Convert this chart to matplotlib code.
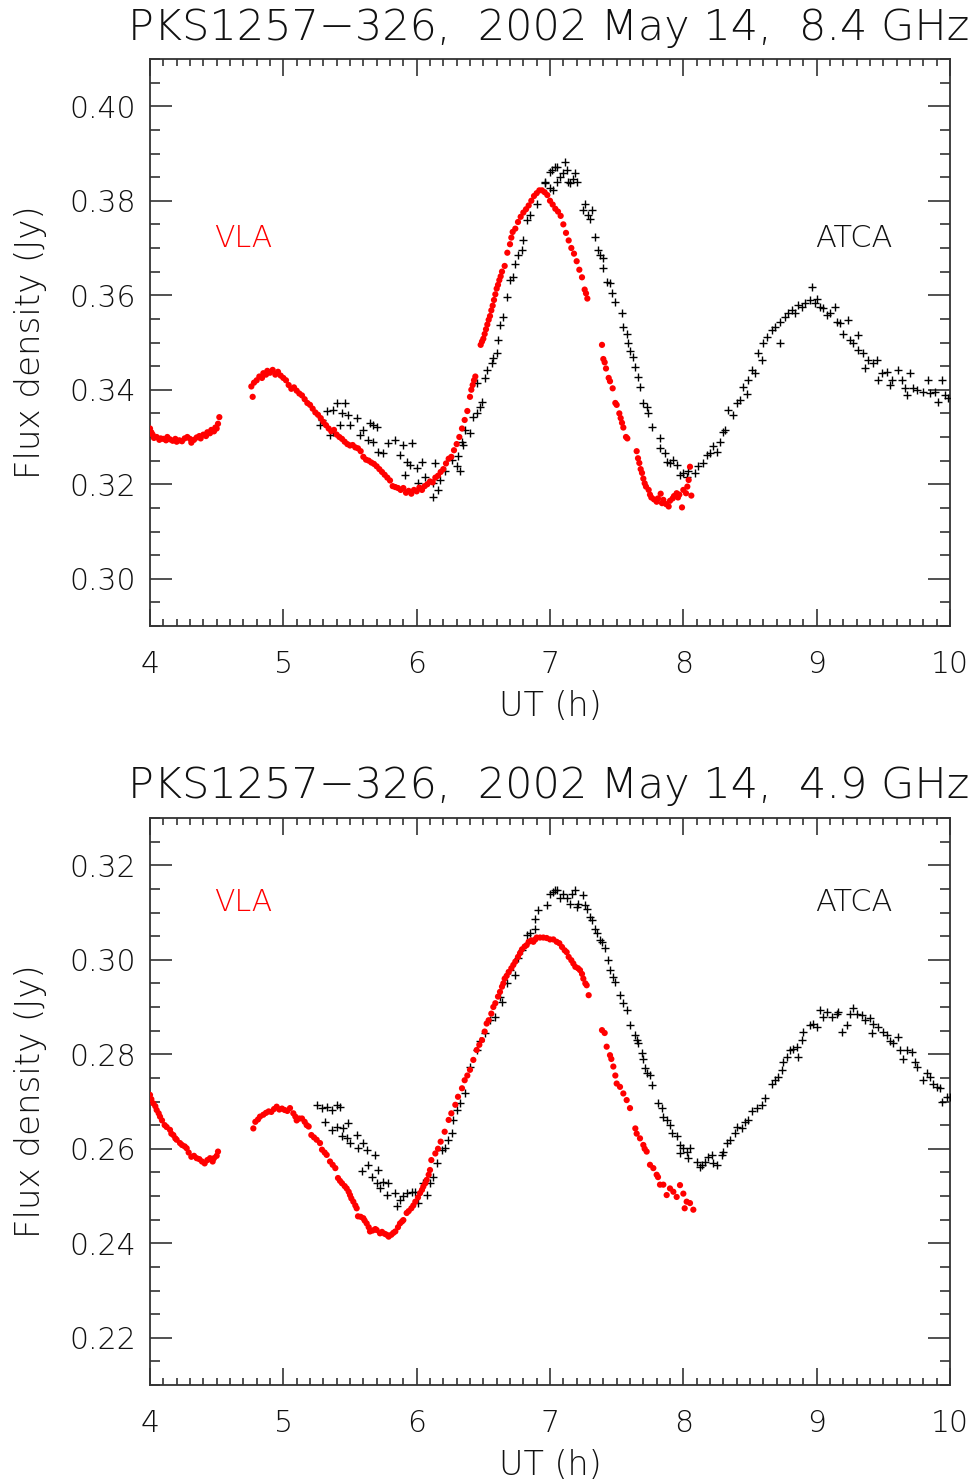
import matplotlib
matplotlib.use("Agg")
import matplotlib.pyplot as plt
from matplotlib.ticker import MultipleLocator, FormatStrFormatter

# ---------------- data ----------------
# 8.4 GHz, VLA
vla84_t = [4.00, 4.01, 4.02, 4.03, 4.05, 4.07, 4.08, 4.10, 4.12, 4.13, 4.15, 4.17, 4.19, 4.20, 4.22,
           4.24, 4.26, 4.28, 4.30, 4.31, 4.33, 4.35, 4.37, 4.38, 4.40, 4.42, 4.43, 4.45, 4.46, 4.48,
           4.49, 4.50, 4.51, 4.52,
           4.76, 4.77, 4.78, 4.80, 4.82, 4.84, 4.85, 4.87, 4.88, 4.90, 4.92, 4.94, 4.96, 4.98, 5.00,
           5.02, 5.04, 5.06, 5.08, 5.10, 5.12, 5.14, 5.16, 5.18, 5.20, 5.22, 5.24, 5.26, 5.28, 5.30,
           5.32, 5.34, 5.36, 5.38, 5.40, 5.42, 5.44, 5.46, 5.48, 5.50, 5.52, 5.54, 5.56, 5.58, 5.60,
           5.62, 5.64, 5.66, 5.68, 5.70, 5.72, 5.74, 5.76, 5.78, 5.80, 5.82, 5.84, 5.86, 5.88, 5.90,
           5.92, 5.94, 5.96, 5.98, 6.00, 6.02, 6.04, 6.06, 6.08, 6.10, 6.12, 6.14, 6.16, 6.18, 6.20,
           6.22, 6.24, 6.26, 6.28, 6.30, 6.32, 6.34, 6.36, 6.38, 6.40, 6.41, 6.42, 6.43, 6.44,
           6.48, 6.49, 6.50, 6.51, 6.52, 6.53, 6.54, 6.55, 6.56, 6.57, 6.58, 6.59, 6.60, 6.61, 6.62,
           6.63, 6.64, 6.66, 6.68, 6.70, 6.71, 6.72, 6.74, 6.76, 6.78, 6.80, 6.82, 6.84, 6.86, 6.88,
           6.90, 6.92, 6.94, 6.96, 6.98, 7.00, 7.02, 7.04, 7.06, 7.08, 7.10, 7.12, 7.14, 7.16, 7.18,
           7.20, 7.22, 7.24, 7.26, 7.27, 7.28,
           7.39, 7.40, 7.41, 7.42, 7.44, 7.45, 7.47, 7.49, 7.50, 7.52, 7.53, 7.54, 7.55, 7.57, 7.58,
           7.65, 7.66, 7.67, 7.68, 7.69, 7.70, 7.71, 7.72, 7.74, 7.75, 7.76, 7.78, 7.80, 7.81, 7.83,
           7.84, 7.85, 7.87, 7.89, 7.90, 7.92, 7.93, 7.95, 7.96, 7.97, 7.99, 8.00, 8.02, 8.03, 8.04,
           8.05, 8.06]
vla84_s = [0.3318, 0.3310, 0.3305, 0.3298, 0.3300, 0.3294, 0.3297, 0.3296, 0.3293, 0.3300, 0.3295,
           0.3292, 0.3296, 0.3290, 0.3293, 0.3291, 0.3297, 0.3300, 0.3296, 0.3288, 0.3294, 0.3299,
           0.3302, 0.3297, 0.3305, 0.3302, 0.3310, 0.3308, 0.3315, 0.3312, 0.3320, 0.3318, 0.3328,
           0.3342,
           0.3407, 0.3385, 0.3415, 0.3420, 0.3428, 0.3425, 0.3435, 0.3432, 0.3440, 0.3436, 0.3442,
           0.3432, 0.3438, 0.3430, 0.3425, 0.3420, 0.3410, 0.3402, 0.3405, 0.3398, 0.3392, 0.3388,
           0.3380, 0.3372, 0.3368, 0.3360, 0.3352, 0.3347, 0.3340, 0.3332, 0.3325, 0.3318, 0.3312,
           0.3315, 0.3305, 0.3300, 0.3296, 0.3290, 0.3285, 0.3282, 0.3283, 0.3278, 0.3276, 0.3270,
           0.3258, 0.3252, 0.3250, 0.3246, 0.3243, 0.3238, 0.3232, 0.3226, 0.3220, 0.3214, 0.3208,
           0.3196, 0.3194, 0.3192, 0.3188, 0.3192, 0.3182, 0.3186, 0.3180, 0.3188, 0.3185, 0.3193,
           0.3188, 0.3196, 0.3200, 0.3206, 0.3204, 0.3214, 0.3218, 0.3226, 0.3232, 0.3244, 0.3254,
           0.3258, 0.3272, 0.3285, 0.3300, 0.3318, 0.3336, 0.3355, 0.3385, 0.3400, 0.3410, 0.3420,
           0.3428,
           0.3495, 0.3502, 0.3508, 0.3518, 0.3528, 0.3538, 0.3548, 0.3556, 0.3568, 0.3578, 0.3590,
           0.3602, 0.3614, 0.3622, 0.3632, 0.3640, 0.3650, 0.3662, 0.3690, 0.3708, 0.3722, 0.3734,
           0.3741, 0.3755, 0.3766, 0.3775, 0.3782, 0.3790, 0.3800, 0.3810, 0.3816, 0.3822, 0.3822,
           0.3818, 0.3812, 0.3800, 0.3792, 0.3783, 0.3777, 0.3768, 0.3750, 0.3732, 0.3716, 0.3700,
           0.3688, 0.3672, 0.3654, 0.3638, 0.3612, 0.3604, 0.3593,
           0.3495, 0.3465, 0.3458, 0.3445, 0.3425, 0.3418, 0.3403, 0.3372, 0.3368, 0.3350, 0.3340,
           0.3330, 0.3320, 0.3300, 0.3297,
           0.3270, 0.3255, 0.3245, 0.3232, 0.3224, 0.3212, 0.3202, 0.3195, 0.3188, 0.3178, 0.3172,
           0.3168, 0.3163, 0.3170, 0.3180, 0.3160, 0.3167, 0.3158, 0.3153, 0.3165, 0.3170, 0.3175,
           0.3181, 0.3172, 0.3178, 0.3151, 0.3188, 0.3181, 0.3195, 0.3209, 0.3237, 0.3176]

# 8.4 GHz, ATCA
atca84_t = [5.275, 5.288, 5.325, 5.375, 5.400, 5.463, 5.488, 5.438, 5.425, 5.350, 5.375, 5.500,
            5.550, 5.575, 5.600, 5.650, 5.675, 5.700, 5.638, 5.675, 5.713, 5.750, 5.788, 5.838,
            5.875, 5.900, 5.925, 5.963, 5.950, 6.000, 6.038, 5.913, 6.013, 6.063, 6.125, 6.138,
            6.163, 6.125, 6.175, 6.213, 6.263, 6.300, 6.325, 6.313, 6.350, 6.338, 6.363, 6.400,
            6.425, 6.450, 6.475, 6.488, 6.450, 6.513, 6.525, 6.563, 6.575, 6.600, 6.613, 6.625,
            6.650, 6.675, 6.700, 6.725, 6.738, 6.763, 6.788, 6.800, 6.825, 6.850, 6.900, 6.963,
            7.000, 7.050, 7.025,
            7.013, 7.038, 7.075, 7.113, 7.125, 7.138, 7.150, 7.175, 7.200, 7.188, 7.100, 7.050,
            7.000, 6.963, 7.263, 7.250, 7.288, 7.300, 7.313, 7.338, 7.363, 7.375, 7.400, 7.400,
            7.425, 7.450, 7.463, 7.488, 7.538, 7.550, 7.575, 7.588, 7.600, 7.625, 7.638, 7.663,
            7.675, 7.700, 7.725, 7.738, 7.763, 7.825, 7.825, 7.863, 7.875, 7.900, 7.925, 7.950,
            7.975, 8.000, 8.025, 8.038, 8.088, 8.113, 8.150, 8.175, 8.200, 8.225, 8.250, 8.275,
            8.300, 8.313, 8.338, 8.375, 8.400, 8.425, 8.450, 8.475, 8.488, 8.513, 8.538, 8.563,
            8.588, 8.600, 8.625, 8.663, 8.688, 8.725, 8.725, 8.763, 8.788, 8.813, 8.838, 8.863,
            8.888, 8.913, 8.950, 8.963, 8.988, 9.000, 9.025, 9.050, 9.075, 9.100, 9.138, 9.150,
            9.175, 9.200, 9.238, 9.250, 9.275, 9.313, 9.313, 9.350, 9.363, 9.388, 9.425, 9.450,
            9.463, 9.488, 9.525, 9.550, 9.563, 9.613, 9.638, 9.663, 9.675, 9.700, 9.725, 9.750,
            9.800, 9.838, 9.850, 9.888, 9.913, 9.938, 9.963, 9.988]
atca84_s = [0.3326, 0.3336, 0.3354, 0.3357, 0.3371, 0.3371, 0.3347, 0.3350, 0.3326, 0.3304, 0.3311,
            0.3326, 0.3340, 0.3304, 0.3315, 0.3329, 0.3326, 0.3322, 0.3294, 0.3290, 0.3269, 0.3266,
            0.3287, 0.3294, 0.3262, 0.3283, 0.3248, 0.3287, 0.3241, 0.3234, 0.3248, 0.3220, 0.3202,
            0.3216, 0.3202, 0.3244, 0.3188, 0.3174, 0.3209, 0.3227, 0.3252, 0.3238, 0.3227, 0.3259,
            0.3283, 0.3290, 0.3315, 0.3308, 0.3343, 0.3350, 0.3364, 0.3375, 0.3414, 0.3424, 0.3442,
            0.3456, 0.3467, 0.3477, 0.3505, 0.3537, 0.3555, 0.3597, 0.3632, 0.3639, 0.3667, 0.3685,
            0.3696, 0.3717, 0.3759, 0.3770, 0.3794, 0.3837, 0.3861, 0.3872, 0.3822,
            0.3865, 0.3872, 0.3851, 0.3882, 0.3865, 0.3840, 0.3837, 0.3847, 0.3840, 0.3858, 0.3858,
            0.3840, 0.3826, 0.3840, 0.3794, 0.3780, 0.3770, 0.3762, 0.3780, 0.3724, 0.3695, 0.3685,
            0.3678, 0.3657, 0.3628, 0.3625, 0.3604, 0.3586, 0.3562, 0.3533, 0.3519, 0.3498, 0.3481,
            0.3470, 0.3449, 0.3428, 0.3406, 0.3371, 0.3364, 0.3350, 0.3322, 0.3297, 0.3276, 0.3266,
            0.3248, 0.3244, 0.3252, 0.3241, 0.3220, 0.3223, 0.3216, 0.3227, 0.3223, 0.3238, 0.3244,
            0.3262, 0.3266, 0.3280, 0.3269, 0.3290, 0.3311, 0.3315, 0.3357, 0.3347, 0.3371, 0.3378,
            0.3406, 0.3392, 0.3421, 0.3442, 0.3435, 0.3477, 0.3463, 0.3498, 0.3512, 0.3526, 0.3533,
            0.3498, 0.3544, 0.3555, 0.3562, 0.3569, 0.3562, 0.3579, 0.3576, 0.3583, 0.3590, 0.3618,
            0.3583, 0.3593, 0.3576, 0.3572, 0.3558, 0.3562, 0.3576, 0.3544, 0.3541, 0.3519, 0.3548,
            0.3505, 0.3498, 0.3516, 0.3484, 0.3477, 0.3445, 0.3463, 0.3456, 0.3463, 0.3421, 0.3435,
            0.3438, 0.3410, 0.3421, 0.3442, 0.3421, 0.3403, 0.3389, 0.3435, 0.3403, 0.3400, 0.3396,
            0.3421, 0.3393, 0.3396, 0.3375, 0.3421, 0.3389, 0.3382]

# 4.9 GHz, VLA
vla49_t = [4.000, 4.010, 4.025, 4.040, 4.050, 4.065, 4.075, 4.090, 4.110, 4.125, 4.150, 4.160,
           4.175, 4.190, 4.200, 4.225, 4.240, 4.260, 4.275, 4.290, 4.310, 4.330, 4.350, 4.370,
           4.390, 4.410, 4.430, 4.450, 4.470, 4.480, 4.500, 4.510,
           4.775, 4.790, 4.810, 4.825, 4.850, 4.870, 4.890, 4.910, 4.930, 4.950, 4.970, 4.990,
           5.010, 5.030, 5.050, 5.075, 5.090, 5.100, 5.120, 5.140, 5.160, 5.175, 5.190, 5.210,
           5.230, 5.250, 5.275, 5.290, 5.310, 5.325, 5.350, 5.370, 5.390, 5.410, 5.425, 5.440,
           5.460, 5.475, 5.490, 5.500, 5.510, 5.525, 5.540, 5.550, 5.560, 5.580, 5.600, 5.610,
           5.625, 5.640, 5.650, 5.670, 5.690, 5.700, 5.725, 5.740, 5.760, 5.775, 5.790, 5.810,
           5.825, 5.840, 5.860, 5.875, 5.890, 5.900, 5.925, 5.940, 5.960, 5.975, 5.990, 6.010,
           6.025, 6.040, 6.050, 6.065, 6.075, 6.090, 6.100, 6.110, 6.140, 6.160, 6.180, 6.210,
           6.240, 6.260, 6.290, 6.310, 6.340, 6.360, 6.380, 6.400, 6.425, 6.450, 6.470, 6.490,
           6.510, 6.525, 6.540, 6.560, 6.575, 6.590, 6.610, 6.625, 6.640, 6.650, 6.660, 6.675,
           6.690, 6.710, 6.725, 6.740, 6.760, 6.775, 6.790, 6.810, 6.825, 6.840, 6.860, 6.875,
           6.890, 6.900, 6.925, 6.950, 6.975, 7.000, 7.025, 7.050, 7.070, 7.090, 7.110, 7.125,
           7.140, 7.160, 7.175, 7.190, 7.210, 7.225, 7.240, 7.250, 7.265, 7.275, 7.290,
           7.390, 7.410, 7.425, 7.450, 7.460, 7.475, 7.490, 7.500, 7.525, 7.550, 7.575, 7.600,
           7.640, 7.650, 7.675, 7.700, 7.710, 7.725, 7.750, 7.775, 7.800, 7.810, 7.825, 7.850,
           7.875, 7.900, 7.925, 7.950, 7.975, 8.000, 8.025, 8.010, 8.050, 8.075]
vla49_s = [0.2714, 0.2705, 0.2696, 0.2690, 0.2682, 0.2675, 0.2668, 0.2660, 0.2650, 0.2646, 0.2640,
           0.2632, 0.2629, 0.2622, 0.2619, 0.2612, 0.2608, 0.2605, 0.2601, 0.2592, 0.2583, 0.2585,
           0.2580, 0.2578, 0.2573, 0.2569, 0.2576, 0.2580, 0.2573, 0.2580, 0.2585, 0.2594,
           0.2643, 0.2657, 0.2662, 0.2668, 0.2672, 0.2676, 0.2679, 0.2678, 0.2684, 0.2689, 0.2683,
           0.2685, 0.2682, 0.2680, 0.2686, 0.2675, 0.2668, 0.2660, 0.2664, 0.2664, 0.2657, 0.2650,
           0.2647, 0.2629, 0.2624, 0.2619, 0.2612, 0.2598, 0.2592, 0.2587, 0.2573, 0.2566, 0.2559,
           0.2538, 0.2532, 0.2527, 0.2521, 0.2516, 0.2509, 0.2502, 0.2495, 0.2488, 0.2480, 0.2474,
           0.2457, 0.2456, 0.2453, 0.2448, 0.2442, 0.2434, 0.2425, 0.2427, 0.2430, 0.2428, 0.2421,
           0.2424, 0.2420, 0.2418, 0.2414, 0.2418, 0.2422, 0.2425, 0.2434, 0.2442, 0.2446, 0.2449,
           0.2464, 0.2468, 0.2474, 0.2480, 0.2488, 0.2497, 0.2506, 0.2513, 0.2520, 0.2527, 0.2534,
           0.2545, 0.2555, 0.2576, 0.2590, 0.2600, 0.2615, 0.2636, 0.2661, 0.2675, 0.2693, 0.2710,
           0.2728, 0.2745, 0.2755, 0.2767, 0.2788, 0.2809, 0.2820, 0.2830, 0.2848, 0.2865, 0.2872,
           0.2886, 0.2900, 0.2908, 0.2922, 0.2932, 0.2943, 0.2950, 0.2960, 0.2966, 0.2974, 0.2982,
           0.2989, 0.2996, 0.3006, 0.3014, 0.3022, 0.3028, 0.3031, 0.3038, 0.3041, 0.3038, 0.3043,
           0.3047, 0.3047, 0.3047, 0.3046, 0.3043, 0.3043, 0.3038, 0.3035, 0.3027, 0.3020, 0.3016,
           0.3006, 0.2999, 0.2992, 0.2985, 0.2982, 0.2978, 0.2970, 0.2960, 0.2950, 0.2946, 0.2925,
           0.2851, 0.2845, 0.2816, 0.2798, 0.2790, 0.2774, 0.2755, 0.2738, 0.2731, 0.2717, 0.2703,
           0.2686, 0.2643, 0.2632, 0.2622, 0.2608, 0.2600, 0.2594, 0.2566, 0.2559, 0.2545, 0.2540,
           0.2524, 0.2524, 0.2502, 0.2516, 0.2509, 0.2498, 0.2523, 0.2505, 0.2488, 0.2474, 0.2485,
           0.2471]

# 4.9 GHz, ATCA
atca49_t = [5.250, 5.288, 5.325, 5.363, 5.400, 5.425, 5.313, 5.363, 5.400, 5.450, 5.488, 5.438,
            5.475, 5.500, 5.550, 5.563, 5.600, 5.625, 5.588, 5.638, 5.663, 5.688, 5.713, 5.700,
            5.725, 5.750, 5.788, 5.775, 5.838, 5.850, 5.875, 5.900, 5.925, 5.963, 5.988, 6.013,
            6.050, 6.075, 6.100, 6.125, 6.150, 6.188, 6.213, 6.238, 6.263, 6.275, 6.300, 6.325,
            6.363, 6.400, 6.450, 6.475, 6.513, 6.550, 6.588, 6.625, 6.638, 6.675, 6.700, 6.738,
            6.763, 6.788, 6.825, 6.850, 6.888, 6.888, 6.913, 6.975, 7.000, 7.038,
            7.025, 7.050, 7.075, 7.100, 7.125, 7.150, 7.163, 7.188, 7.200, 7.213, 7.250, 7.263,
            7.275, 7.300, 7.313, 7.338, 7.350, 7.375, 7.388, 7.413, 7.438, 7.450, 7.475, 7.488,
            7.525, 7.550, 7.575, 7.600, 7.638, 7.650, 7.663, 7.688, 7.700, 7.713, 7.725, 7.750,
            7.763, 7.813, 7.838, 7.850, 7.875, 7.900, 7.913, 7.950, 7.975, 8.000, 8.025, 8.038,
            7.975, 8.050, 8.100, 8.125, 8.138, 8.163, 8.188, 8.213, 8.225, 8.250, 8.288, 8.300,
            8.325, 8.350, 8.388, 8.400, 8.438, 8.463, 8.488, 8.513, 8.550, 8.588, 8.613, 8.663,
            8.688, 8.713, 8.738, 8.750, 8.775, 8.800, 8.825, 8.850, 8.863, 8.888, 8.900, 8.950,
            8.975, 9.000, 9.025, 9.050, 9.075, 9.113, 9.150, 9.163, 9.188, 9.225, 9.250, 9.275,
            9.300, 9.338, 9.363, 9.400, 9.413, 9.425, 9.463, 9.500, 9.525, 9.550, 9.575, 9.613,
            9.625, 9.650, 9.675, 9.713, 9.738, 9.750, 9.800, 9.825, 9.850, 9.875, 9.900, 9.925,
            9.938, 9.975, 10.000]
atca49_s = [0.2693, 0.2686, 0.2689, 0.2682, 0.2693, 0.2688, 0.2657, 0.2640, 0.2647, 0.2643, 0.2654,
            0.2626, 0.2622, 0.2612, 0.2629, 0.2601, 0.2612, 0.2597, 0.2552, 0.2566, 0.2541, 0.2587,
            0.2555, 0.2527, 0.2516, 0.2530, 0.2527, 0.2502, 0.2506, 0.2478, 0.2492, 0.2499, 0.2506,
            0.2509, 0.2509, 0.2485, 0.2527, 0.2502, 0.2527, 0.2541, 0.2569, 0.2597, 0.2601, 0.2619,
            0.2633, 0.2661, 0.2682, 0.2696, 0.2717, 0.2774, 0.2809, 0.2827, 0.2844, 0.2872, 0.2879,
            0.2922, 0.2911, 0.2950, 0.2978, 0.2967, 0.3003, 0.3020, 0.3052, 0.3056, 0.3066, 0.3087,
            0.3105, 0.3115, 0.3140, 0.3147,
            0.3144, 0.3147, 0.3130, 0.3140, 0.3130, 0.3119, 0.3140, 0.3147, 0.3112, 0.3119, 0.3137,
            0.3115, 0.3108, 0.3091, 0.3084, 0.3066, 0.3056, 0.3041, 0.3038, 0.3024, 0.2999, 0.2978,
            0.2964, 0.2953, 0.2925, 0.2908, 0.2893, 0.2862, 0.2841, 0.2830, 0.2823, 0.2802, 0.2791,
            0.2770, 0.2760, 0.2756, 0.2735, 0.2696, 0.2686, 0.2668, 0.2661, 0.2650, 0.2633, 0.2626,
            0.2608, 0.2601, 0.2594, 0.2580, 0.2590, 0.2601, 0.2573, 0.2562, 0.2566, 0.2573, 0.2583,
            0.2587, 0.2569, 0.2566, 0.2587, 0.2594, 0.2612, 0.2619, 0.2633, 0.2647, 0.2643, 0.2657,
            0.2661, 0.2679, 0.2686, 0.2693, 0.2707, 0.2738, 0.2745, 0.2752, 0.2767, 0.2784, 0.2795,
            0.2809, 0.2812, 0.2816, 0.2795, 0.2830, 0.2848, 0.2862, 0.2865, 0.2858, 0.2893, 0.2879,
            0.2890, 0.2879, 0.2886, 0.2890, 0.2848, 0.2862, 0.2886, 0.2897, 0.2886, 0.2883, 0.2872,
            0.2876, 0.2844, 0.2865, 0.2858, 0.2848, 0.2841, 0.2827, 0.2823, 0.2837, 0.2809, 0.2791,
            0.2809, 0.2805, 0.2784, 0.2774, 0.2745, 0.2760, 0.2752, 0.2738, 0.2731, 0.2728, 0.2700,
            0.2710, 0.2710]

titles = ["PKS1257\u2212326,  2002 May 14,  8.4 GHz",
          "PKS1257\u2212326,  2002 May 14,  4.9 GHz"]
ylims = [(0.29, 0.41), (0.21, 0.33)]
label_y = [0.372, 0.3122]

# ---------------- figure ----------------
W, H = 973, 1481
fig = plt.figure(figsize=(W / 100, H / 100), dpi=100)
FONT = "DejaVu Sans"
FW = "ultralight"
TXT = "#111111"
AXC = "#333333"

panels = [
    (vla84_t, vla84_s, atca84_t, atca84_s),
    (vla49_t, vla49_s, atca49_t, atca49_s),
]
tops = [59, 818]

for i, (vt, vs, at, as_) in enumerate(panels):
    top = tops[i]
    ax = fig.add_axes([150 / W, 1 - (top + 567) / H, 800 / W, 567 / H])
    ax.scatter(at, as_, marker="+", s=38, c="black", linewidths=1.0, zorder=3)
    ax.scatter(vt, vs, marker="o", s=20, c="#ff0000", edgecolors="none", zorder=4)
    ax.set_xlim(4, 10)
    ax.set_ylim(*ylims[i])
    ax.xaxis.set_major_locator(MultipleLocator(1))
    ax.xaxis.set_minor_locator(MultipleLocator(0.1))
    ax.yaxis.set_major_locator(MultipleLocator(0.02))
    ax.yaxis.set_minor_locator(MultipleLocator(0.005))
    ax.yaxis.set_major_formatter(FormatStrFormatter("%.2f"))
    ax.tick_params(axis="both", which="both", direction="in", top=True, right=True,
                   colors=AXC, width=1.2)
    ax.tick_params(axis="x", which="major", length=12, pad=17, labelsize=21.5)
    ax.tick_params(axis="x", which="minor", length=5)
    ax.tick_params(axis="y", which="major", length=16, pad=10, labelsize=21.5)
    ax.tick_params(axis="y", which="minor", length=7)
    for lab in ax.get_xticklabels() + ax.get_yticklabels():
        lab.set_fontfamily(FONT)
        lab.set_fontweight(FW)
        lab.set_color(TXT)
    for sp in ax.spines.values():
        sp.set_linewidth(1.3)
        sp.set_color(AXC)
    ax.set_xlabel("UT (h)", fontsize=24, family=FONT, fontweight=FW, color=TXT, labelpad=8)
    ax.set_ylabel("Flux density (Jy)", fontsize=24.5, family=FONT, fontweight=FW, color=TXT,
                  labelpad=16)
    ax.text(4.7, label_y[i], "VLA", color="#ff0000", fontsize=21.5, family=FONT, fontweight=FW,
            ha="center", va="center")
    ax.text(9.28, label_y[i], "ATCA", color=TXT, fontsize=22, family=FONT, fontweight=FW,
            ha="center", va="center")
    fig.text(549 / W, 1 - (top - 32) / H, titles[i], fontsize=31, family=FONT, fontweight=FW,
             color=TXT, ha="center", va="center")

fig.savefig("out.png", dpi=100)
